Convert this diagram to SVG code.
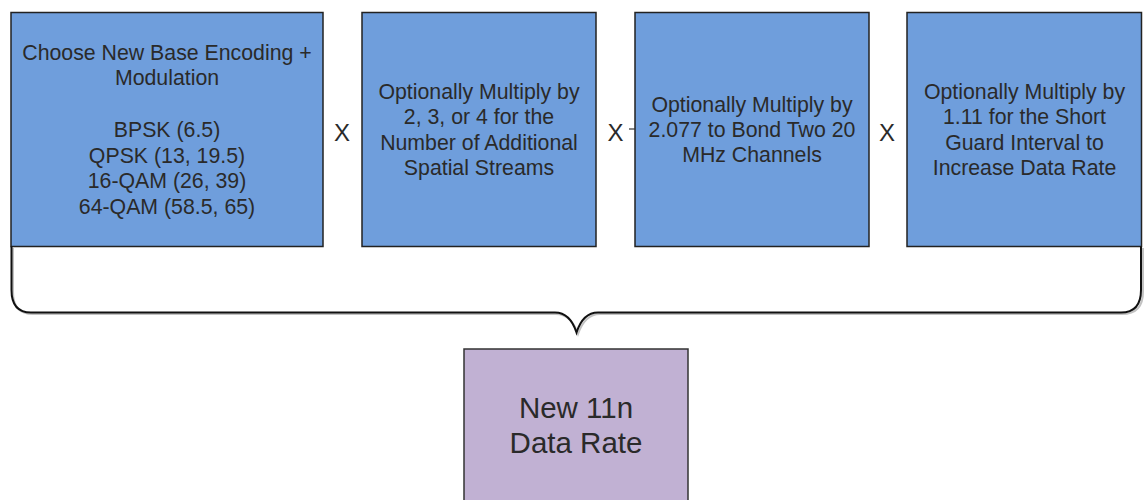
<svg xmlns="http://www.w3.org/2000/svg" width="1144" height="500" viewBox="0 0 1144 500">
<style>
.box{fill:#6f9edc;stroke:#222;stroke-width:1.5}
.res{fill:#c1b1d3;stroke:#333;stroke-width:1.5}
.t{font-family:"Liberation Sans",Arial,sans-serif;font-size:21.3px;fill:#2a2a2a;text-anchor:middle}
.x{font-size:24px}
.big{font-size:29.5px}
.brace{fill:none;stroke:#111;stroke-width:2}
.shadow{fill:none;stroke:#999;stroke-width:2;opacity:0.6}
</style>
<rect width="1144" height="500" fill="#fff"/>
<g id="node-base">
<rect class="box" x="11" y="12.5" width="312" height="234"/>
<text class="t"><tspan x="167" y="60">Choose New Base Encoding +</tspan><tspan x="167" y="84.5">Modulation</tspan><tspan x="167" y="137">BPSK (6.5)</tspan><tspan x="167" y="162.5">QPSK (13, 19.5)</tspan><tspan x="167" y="188">16-QAM (26, 39)</tspan><tspan x="167" y="213.5">64-QAM (58.5, 65)</tspan></text>
</g>
<g id="op1"><text class="t x" x="342" y="140.5">X</text></g>
<g id="node-streams">
<rect class="box" x="362" y="12.5" width="234" height="234"/>
<text class="t"><tspan x="479" y="98.5">Optionally Multiply by</tspan><tspan x="479" y="124">2, 3, or 4 for the</tspan><tspan x="479" y="149.5">Number of Additional</tspan><tspan x="479" y="175">Spatial Streams</tspan></text>
</g>
<g id="op2"><text class="t x" x="615.5" y="140.5">X</text></g>
<g id="node-bond">
<rect class="box" x="635" y="12.5" width="234" height="234"/>
<text class="t"><tspan x="752" y="111.5">Optionally Multiply by</tspan><tspan x="752" y="137">2.077 to Bond Two 20</tspan><tspan x="752" y="162">MHz Channels</tspan></text>
</g>
<g id="op3"><text class="t x" x="887" y="140.5">X</text></g>
<g id="node-gi">
<rect class="box" x="907" y="12.5" width="234.5" height="234"/>
<text class="t"><tspan x="1024.5" y="98.5">Optionally Multiply by</tspan><tspan x="1024.5" y="124">1.11 for the Short</tspan><tspan x="1024.5" y="149.5">Guard Interval to</tspan><tspan x="1024.5" y="175">Increase Data Rate</tspan></text>
</g>
<g id="connectors">
<line x1="629" y1="129" x2="635" y2="129" stroke="#333" stroke-width="1.2"/>
<path class="shadow" d="M13 248 V292 Q13 314 33 314 H556 Q571 314 578 334 Q585 314 600 314 H1122 Q1143 314 1143 292 V248"/>
<path class="brace" d="M11.5 246.5 V290 Q11.5 312.5 31 312.5 H555 Q570 312.5 576.5 332.5 Q583 312.5 598 312.5 H1121 Q1141 312.5 1141 290 V246.5"/>
</g>
<g id="node-result">
<rect class="res" x="464" y="349" width="224" height="160"/>
<text class="t big"><tspan x="576" y="418">New 11n</tspan><tspan x="576" y="453">Data Rate</tspan></text>
</g>
</svg>
